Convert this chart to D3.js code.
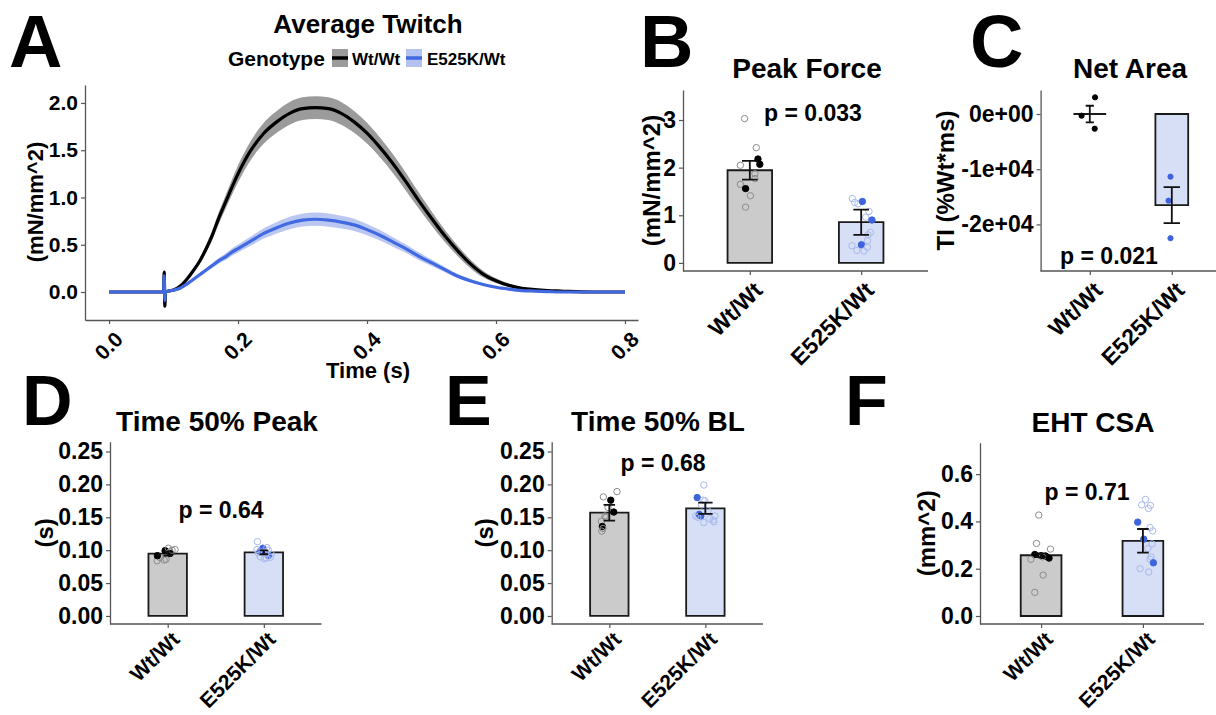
<!DOCTYPE html>
<html><head><meta charset="utf-8">
<script src="https://cdn.jsdelivr.net/npm/d3@7"></script>
<style>
body{margin:0;background:#fff}
svg{display:block}
text{font-family:"Liberation Sans",Arial,Helvetica,sans-serif;font-weight:bold;fill:#000}
</style>
</head><body>
<svg id="fig" width="1216" height="715"></svg>
<script>
// ---------------- DATA ----------------
const genotypes = ["Wt/Wt", "E525K/Wt"];

// Panel A: average twitch traces (time in s, force in mN/mm^2, SE ribbons)
const timeS = [0,0.02,0.04,0.06,0.08,0.0845,0.0855,0.0865,0.0875,0.092,0.1,
  0.11,0.12,0.13,0.14,0.15,0.16,0.17,0.18,0.19,0.2,
  0.22,0.24,0.26,0.28,0.3,0.32,0.34,0.36,0.38,0.4,0.42,0.44,0.46,0.48,0.5,0.52,0.54,0.56,0.58,0.6,0.62,0.64,0.66,0.68,0.7,
  0.75,0.8];
const forceWt = [0,0,0,0,0,0,0.21,-0.15,0,0.01,0.02,
  0.06,0.13,0.22,0.32,0.45,0.60,0.78,0.94,1.10,1.25,
  1.50,1.68,1.80,1.89,1.94,1.95,1.94,1.89,1.80,1.68,1.53,1.36,1.17,0.97,0.78,0.60,0.44,0.30,0.19,0.12,0.07,0.04,0.025,0.015,0.01,
  0,0];
const seWt = [0,0,0,0,0,0,0,0,0,0.003,0.005,
  0.01,0.015,0.02,0.03,0.04,0.05,0.06,0.07,0.08,0.09,
  0.1,0.11,0.115,0.12,0.12,0.12,0.12,0.12,0.115,0.11,0.105,0.1,0.095,0.085,0.075,0.065,0.055,0.045,0.035,0.025,0.018,0.012,0.008,0.005,0.004,
  0.002,0.002];
const forceE525K = [0,0,0,0,0,0,0.17,-0.09,0,0.01,0.02,
  0.04,0.08,0.13,0.18,0.23,0.28,0.33,0.37,0.42,0.46,
  0.54,0.62,0.68,0.73,0.76,0.77,0.76,0.74,0.71,0.66,0.60,0.53,0.46,0.38,0.31,0.24,0.17,0.12,0.08,0.05,0.03,0.015,0.01,0.005,0,
  0,0];
const seE525K = [0,0,0,0,0,0,0,0,0,0.002,0.003,
  0.005,0.008,0.012,0.016,0.02,0.025,0.03,0.034,0.038,0.042,
  0.048,0.055,0.06,0.065,0.068,0.07,0.07,0.068,0.065,0.06,0.055,0.05,0.045,0.04,0.034,0.028,0.022,0.017,0.012,0.008,0.006,0.004,0.003,0.002,0.002,
  0.002,0.002];
const timeTicks = [0, 0.2, 0.4, 0.6, 0.8];
const forceTicks = [0, 0.5, 1, 1.5, 2];

// Bar panels: mean & SE per genotype; individual points [value, jitter (category units), filled]
const peakForceMean = [1.945, 0.855];
const peakForceSE = [0.195, 0.265];
const peakForceWt = [[3.03,-0.047,0],[2.42,0.058,0],[2.18,0.073,1],[2.07,0.09,1],[2.05,-0.085,0],[1.87,0.046,0],
  [1.77,0.046,0],[1.65,-0.085,0],[1.56,-0.038,1],[1.41,0.005,0],[1.17,-0.038,0]];
const peakForceE525K = [[1.35,-0.079,0],[1.27,-0.058,0],[1.24,-0.029,0],[1.29,0.011,1],[1.08,0.07,0],[0.96,0.04,0],
  [0.90,0.097,1],[0.64,0.083,0],[0.59,0.061,0],[0.47,0.056,0],[0.36,-0.083,0],[0.38,0.002,1],[0.33,0.056,0],
  [0.26,-0.038,0],[0.25,0.025,0]];
const peakForceTicks = [0, 1, 2, 3];

const netAreaMean = [0, -16500];
const netAreaSE = [1500, 3260];
const netAreaWt = [[3020,0.064,1],[-300,-0.1,1],[-2660,0.06,1]];
const netAreaE525K = [[-11350,-0.016,1],[-15700,-0.04,1],[-22500,-0.016,1]];
const netAreaTicks = [-20000, -10000, 0];
const netAreaTickLabels = ["-2e+04", "-1e+04", "0e+00"];

const t50PeakMean = [0.0948, 0.0968];
const t50PeakSE = [0.003, 0.003];
const t50PeakWt = [[0.084,-0.11,0],[0.089,-0.08,0],[0.0917,-0.107,1],[0.0993,-0.027,1],[0.103,0.007,0],[0.101,0.077,0],
  [0.085,-0.037,0],[0.086,-0.017,0],[0.0977,0.025,0],[0.095,0.025,1],[0.100,0.046,0]];
const t50PeakE525K = [[0.113,-0.066,0],[0.103,-0.01,1],[0.104,0.032,0],[0.098,-0.038,1],[0.101,-0.072,0],[0.092,0.049,1],
  [0.087,0.004,0],[0.089,0.067,0],[0.100,0.046,0],[0.097,-0.017,0],[0.096,-0.058,0],[0.094,0.077,0],[0.090,-0.038,0],
  [0.088,0.025,0],[0.095,0.004,0]];
const t50Ticks = [0, 0.05, 0.10, 0.15, 0.20, 0.25];

const t50BLMean = [0.157, 0.1637];
const t50BLSE = [0.012, 0.0085];
const t50BLWt = [[0.181,-0.062,0],[0.189,0.08,0],[0.176,0.015,1],[0.158,0.046,1],[0.152,-0.045,0],[0.144,-0.083,0],
  [0.136,-0.073,1],[0.129,-0.079,0],[0.150,-0.034,0],[0.133,-0.066,0],[0.165,-0.014,0]];
const t50BLE525K = [[0.199,-0.016,0],[0.180,-0.085,1],[0.176,-0.023,0],[0.175,-0.005,0],[0.169,-0.04,0],[0.1545,-0.065,1],
  [0.152,-0.047,1],[0.152,-0.1,0],[0.152,0.099,0],[0.146,0.081,0],[0.142,-0.016,0],[0.143,0.089,0],[0.160,0.026,0],
  [0.148,0.047,0],[0.150,-0.078,0]];

const csaMean = [0.257, 0.318];
const csaSE = [0.008, 0.05];
const csaWt = [[0.427,-0.023,0],[0.307,-0.045,0],[0.283,0.092,0],[0.26,-0.062,1],[0.255,0,1],[0.253,0.046,1],
  [0.245,0.078,1],[0.24,-0.1,0],[0.25,0.014,0],[0.173,0.02,0],[0.10,-0.062,0]];
const csaE525K = [[0.493,0.025,0],[0.47,-0.012,0],[0.468,0.074,0],[0.455,0.054,0],[0.397,-0.051,1],[0.374,0.07,0],
  [0.36,0.096,0],[0.325,0.008,1],[0.305,0.09,0],[0.285,0.047,0],[0.25,0.08,0],[0.24,0.07,0],[0.225,0.103,1],
  [0.20,-0.027,0],[0.186,0.057,0]];
const csaTicks = [0, 0.2, 0.4, 0.6];

// ---------------- STYLE ----------------
const C = {
  wtLine: "#000000", wtRibbon: "#9b9b9b",
  eLine: "#4169E1", eRibbon: "#b3c2f0",
  wtBar: "#cbcbcb", eBar: "#d6dff6",
  wtOpen: "#8c8c8c", eOpen: "#a8b9ef",
  wtFill: "#000000", eFill: "#3d63dd",
  axis: "#555555"
};

const svg = d3.select("#fig");
svg.append("rect").attr("width",1216).attr("height",715).attr("fill","#fff");

function letter(t, x, y, fs){
  svg.append("text").attr("x",x).attr("y",y).attr("font-size",fs).text(t);
}
function styleAxis(g){
  g.select(".domain").attr("stroke",C.axis).attr("stroke-width",1.3);
  g.selectAll(".tick line").attr("stroke",C.axis).attr("stroke-width",1.2);
  g.selectAll(".tick text").attr("fill","#000").style("font-family",'"Liberation Sans",Arial,sans-serif').style("font-weight","bold");
}

// ---------------- PANEL A ----------------
(function(){
  const x = d3.scaleLinear().domain([-0.0373, 0.8202]).range([85, 638]);
  const y = d3.scaleLinear().domain([-0.296, 2.19]).range([320, 85]);
  const g = svg.append("g");
  const rows = timeS.map((t,i)=>({t, w:forceWt[i], ws:seWt[i], e:forceE525K[i], es:seE525K[i]}));
  const curve = d3.curveMonotoneX;
  g.append("path").datum(rows).attr("fill",C.wtRibbon)
    .attr("d", d3.area().curve(curve).x(d=>x(d.t)).y0(d=>y(d.w-d.ws)).y1(d=>y(d.w+d.ws)));
  g.append("path").datum(rows).attr("fill","none").attr("stroke",C.wtLine).attr("stroke-width",3.2)
    .attr("d", d3.line().curve(curve).x(d=>x(d.t)).y(d=>y(d.w)));
  g.append("path").datum(rows).attr("fill",C.eRibbon).attr("opacity",0.9)
    .attr("d", d3.area().curve(curve).x(d=>x(d.t)).y0(d=>y(d.e-d.es)).y1(d=>y(d.e+d.es)));
  g.append("path").datum(rows).attr("fill","none").attr("stroke",C.eLine).attr("stroke-width",3.2)
    .attr("d", d3.line().curve(curve).x(d=>x(d.t)).y(d=>y(d.e)));

  const ya = g.append("g").attr("transform","translate(85,0)")
    .call(d3.axisLeft(y).tickValues(forceTicks).tickFormat(d3.format(".1f")).tickSize(4).tickSizeOuter(0).tickPadding(3));
  ya.selectAll(".tick text").attr("font-size",21);
  styleAxis(ya);
  const xa = g.append("g").attr("transform","translate(0,320)")
    .call(d3.axisBottom(x).tickValues(timeTicks).tickFormat(d3.format(".1f")).tickSize(4).tickSizeOuter(0));
  styleAxis(xa);
  xa.selectAll(".tick text").attr("font-size",21).attr("y",0).attr("dy",0)
    .attr("transform","translate(4,10) rotate(-45)").attr("text-anchor","end").attr("dy","0.72em");

  svg.append("text").attr("x",368).attr("y",33).attr("text-anchor","middle").attr("font-size",26).text("Average Twitch");
  svg.append("text").attr("x",368).attr("y",378).attr("text-anchor","middle").attr("font-size",22).text("Time (s)");
  svg.append("text").attr("transform","translate(35,202) rotate(-90)").attr("text-anchor","middle")
    .attr("dy","0.35em").attr("font-size",22).text("(mN/mm^2)");
  // legend
  svg.append("text").attr("x",228).attr("y",66).attr("font-size",21).text("Genotype");
  const keys = [{x:332, fill:C.wtRibbon, line:C.wtLine, label:genotypes[0], lx:352},
                {x:406, fill:C.eRibbon, line:C.eLine, label:genotypes[1], lx:427}];
  keys.forEach(k=>{
    svg.append("rect").attr("x",k.x).attr("y",49).attr("width",16).attr("height",18).attr("fill",k.fill);
    svg.append("line").attr("x1",k.x).attr("x2",k.x+16).attr("y1",58).attr("y2",58).attr("stroke",k.line).attr("stroke-width",3.5);
    svg.append("text").attr("x",k.lx).attr("y",65).attr("font-size",17).text(k.label);
  });
})();
letter("A", 9, 67, 74);

// ---------------- BAR PANELS ----------------
function barPanel(o){
  const x = d3.scalePoint().domain(genotypes).range(o.xr).padding(0.6);
  const step = x.step();
  const y = d3.scaleLinear().domain(o.yd).range(o.yr);
  const g = svg.append("g");
  const fills = [C.wtBar, C.eBar], opens=[C.wtOpen, C.eOpen], solids=[C.wtFill, C.eFill];
  const bw = 0.4*step;
  genotypes.forEach((gt,i)=>{
    const cx = x(gt);
    const y0 = y(0), y1 = y(o.mean[i]);
    g.append("path").attr("d", `M${cx-bw/2},${y0}H${cx+bw/2}V${y1}H${cx-bw/2}Z`)
      .attr("fill",fills[i]).attr("stroke","#1a1a1a").attr("stroke-width",1.8);
  });
  genotypes.forEach((gt,i)=>{
    const cx = x(gt);
    g.selectAll(null).data(o.points[i]).enter().append("circle")
      .attr("cx",d=>cx + d[1]*step).attr("cy",d=>y(d[0])).attr("r",o.r||3.2)
      .attr("fill",d=>d[2]?solids[i]:"none")
      .attr("stroke",d=>d[2]?solids[i]:opens[i]).attr("stroke-width",1);
  });
  genotypes.forEach((gt,i)=>{
    const cx = x(gt), ww = o.ew[i]*step;
    const yt = y(o.mean[i]+o.se[i]), yb = y(o.mean[i]-o.se[i]);
    g.append("path").attr("d",`M${cx-ww},${yt}H${cx+ww}M${cx},${yt}V${yb}M${cx-ww},${yb}H${cx+ww}`)
      .attr("fill","none").attr("stroke","#111").attr("stroke-width",1.8);
  });
  const ya = g.append("g").attr("transform",`translate(${o.xr[0]},0)`)
    .call(d3.axisLeft(y).tickValues(o.ticks).tickFormat(o.fmt).tickSize(4).tickSizeOuter(0).tickPadding(3));
  ya.selectAll(".tick text").attr("font-size",23);
  styleAxis(ya);
  const xa = g.append("g").attr("transform",`translate(0,${o.yr[0]})`)
    .call(d3.axisBottom(x).tickSize(4).tickSizeOuter(0));
  xa.select(".domain").attr("d",`M${o.xr[0]},0H${o.xr[1]}`);
  styleAxis(xa);
  const xf = o.xfs || 23, xoff = o.xoff || 9;
  xa.selectAll(".tick text").attr("font-size",xf).attr("y",0).attr("dy","0.72em")
    .attr("transform",`translate(2,${xoff}) rotate(-45)`).attr("text-anchor","end");
  svg.append("text").attr("x",o.title[1]).attr("y",o.title[2]).attr("text-anchor","middle").attr("font-size",28).text(o.title[0]);
  svg.append("text").attr("x",o.p[1]).attr("y",o.p[2]).attr("text-anchor","middle").attr("font-size",23).text(o.p[0]);
  svg.append("text").attr("transform",`translate(${o.yl[1]},${(o.yr[0]+o.yr[1])/2}) rotate(-90)`)
    .attr("text-anchor","middle").attr("dy","0.36em").attr("font-size",24).text(o.yl[0]);
}

barPanel({xr:[683,928], yr:[271,90], yd:[-0.17,3.63], ticks:peakForceTicks, fmt:d3.format("d"),
  mean:peakForceMean, se:peakForceSE, points:[peakForceWt, peakForceE525K], ew:[0.07,0.07],
  title:["Peak Force",807,78], p:["p = 0.033",813,121], yl:["(mN/mm^2)",651]});
letter("B", 640, 67, 74);

barPanel({xr:[1040.6,1221], yr:[271,90], yd:[-28440,4350], ticks:netAreaTicks,
  fmt:(d)=>netAreaTickLabels[netAreaTicks.indexOf(d)],
  mean:netAreaMean, se:netAreaSE, points:[netAreaWt, netAreaE525K], r:2.6, ew:[0.05,0.1],
  title:["Net Area",1130,78], p:["p = 0.021",1109,264], yl:["TI (%Wt*ms)",945]});
letter("C", 970, 67, 74);

barPanel({xr:[110,321.5], yr:[624,441.7], yd:[-0.0122,0.2649], ticks:t50Ticks, fmt:d3.format(".2f"),
  mean:t50PeakMean, se:t50PeakSE, points:[t50PeakWt, t50PeakE525K], ew:[0.045,0.045], xfs:21, xoff:6,
  title:["Time 50% Peak",217,431], p:["p = 0.64",221,518], yl:["(s)",44]});
letter("D", 22, 425, 70);

barPanel({xr:[551.7,763], yr:[624,441.7], yd:[-0.0122,0.2649], ticks:t50Ticks, fmt:d3.format(".2f"),
  mean:t50BLMean, se:t50BLSE, points:[t50BLWt, t50BLE525K], ew:[0.06,0.075], xfs:21, xoff:6,
  title:["Time 50% BL",658,431], p:["p = 0.68",663,471], yl:["(s)",484]});
letter("E", 445, 425, 70);

barPanel({xr:[980,1204], yr:[624,442.7], yd:[-0.0338,0.733], ticks:csaTicks, fmt:d3.format(".1f"),
  mean:csaMean, se:csaSE, points:[csaWt, csaE525K], ew:[0.057,0.057], xfs:21, xoff:6,
  title:["EHT CSA",1093,432], p:["p = 0.71",1087,500], yl:["(mm^2)",926]});
letter("F", 845, 425, 70);
</script>
</body></html>
